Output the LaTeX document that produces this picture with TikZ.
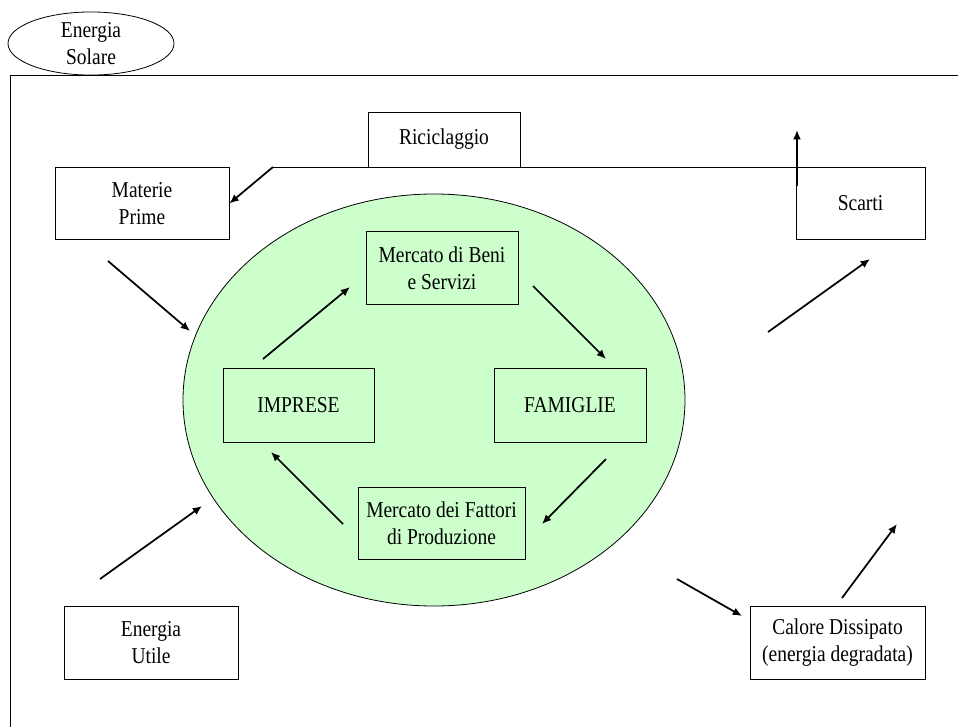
\documentclass[tikz,border=0pt]{standalone}
\usepackage{fontspec}
\setmainfont[FakeStretch=0.86]{Liberation Serif}
\usepackage{tikz}
\usetikzlibrary{shapes,arrows.meta,positioning}
\definecolor{ecogreen}{RGB}{204,255,204}
\tikzstyle{block} = [rectangle, draw=black, line width=0.6pt, inner sep=0pt, align=center, text centered, minimum height=54.5pt, font=\fontsize{17}{20.3}\selectfont]
\tikzstyle{sun} = [ellipse, draw=black, line width=0.6pt, inner sep=0pt, align=center, minimum width=124.5pt, minimum height=47.3pt, font=\fontsize{17}{20.3}\selectfont]
\tikzstyle{eco} = [ellipse, draw=black, line width=0.6pt, fill=ecogreen, minimum width=376.5pt, minimum height=309pt]
\tikzstyle{arrow} = [-{Latex[length=7pt,width=6pt]}, line width=1.3pt]
\begin{document}
\begin{tikzpicture}[x=0.75pt, y=-0.75pt]
  \useasboundingbox (0,0) rectangle (958,726);
  \draw[line width=0.6pt] (10,75) rectangle (990,760);
  \node[sun](sol) at (91,43.5){Energia\\Solare};
  \node[eco](sys) at (434,400){};
  \node[block, minimum width=130.5pt](mp) at (142,203.5){Materie\\Prime};
  \node[block, minimum width=114pt, minimum height=41.3pt](ric) at (444,139.5){Riciclaggio};
  \node[block, minimum width=96.8pt](sca) at (860.5,203.5){Scarti};
  \node[block, minimum width=114pt](beni) at (442,268){Mercato di Beni\\e Servizi};
  \node[block, minimum width=113.3pt, minimum height=55.5pt](imp) at (298.5,405){IMPRESE};
  \node[block, minimum width=114pt, minimum height=55.5pt](fam) at (570,405){FAMIGLIE};
  \node[block, minimum width=125.3pt](fat) at (441.5,523.5){Mercato dei Fattori\\di Produzione};
  \node[block, minimum width=130.5pt](eu) at (151,643){Energia\\Utile};
  \node[block, minimum width=131.3pt](cal) at (837.5,643){Calore Dissipato\\(energia degradata)};
  % free ends of the arrows
  \coordinate (ricR) at (813,167);
  \coordinate (ricL) at (273,167);
  \coordinate (scaA) at (797,186);
  \coordinate (scaB) at (797,130);
  \coordinate (mpA) at (108,261);
  \coordinate (mpB) at (190,331);
  \coordinate (euA) at (100,579);
  \coordinate (euB) at (202,506);
  \coordinate (outA) at (768,332);
  \coordinate (outB) at (870,259);
  \coordinate (calA) at (677,579);
  \coordinate (calB) at (742,616);
  \coordinate (calC) at (842,598);
  \coordinate (calD) at (897,524);
  \coordinate (impA) at (263,359);
  \coordinate (beniA) at (350,287);
  \coordinate (beniB) at (533,286);
  \coordinate (famA) at (606,359);
  \coordinate (famB) at (606,459);
  \coordinate (fatA) at (542,524);
  \coordinate (fatB) at (343,524);
  \coordinate (impB) at (271,452);
  \draw[line width=0.6pt] (ricL) -- (ricR);
  \draw[arrow] (ricL) -- (mp.east);
  \draw[arrow] (scaA) -- (scaB);
  \draw[arrow] (mpA) -- (mpB);
  \draw[arrow] (euA) -- (euB);
  \draw[arrow] (outA) -- (outB);
  \draw[arrow] (calA) -- (calB);
  \draw[arrow] (calC) -- (calD);
  \draw[arrow] (impA) -- (beniA);
  \draw[arrow] (beniB) -- (famA);
  \draw[arrow] (famB) -- (fatA);
  \draw[arrow] (fatB) -- (impB);
\end{tikzpicture}
\end{document}
